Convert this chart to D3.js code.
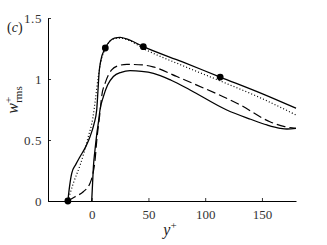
<!DOCTYPE html>
<html>
<head>
<meta charset="utf-8">
<script src="https://cdn.jsdelivr.net/npm/d3@7"></script>
<style>
  body { margin: 0; background: #fff; }
</style>
</head>
<body>
<div id="chart"></div>
<script>
// upper solid line (with markers)
const solidUpper = [
  [-21, 0], [-19.5, 0.12], [-17.6, 0.227], [-14, 0.3], [-10.3, 0.363], [-5, 0.45],
  [-1.5, 0.527], [2, 0.63], [4.4, 0.746], [5.5, 0.9], [6.5, 1.05], [8, 1.15],
  [11.7, 1.25], [16, 1.31], [20, 1.335], [25, 1.342], [32, 1.325], [45.5, 1.265],
  [80, 1.14], [113.2, 1.016], [150, 0.88], [180, 0.76]
];
const dotted = [
  [-21, 0], [-16.2, 0.145], [-10, 0.3], [-3, 0.527], [1, 0.68], [3.5, 0.85],
  [5.5, 1.0], [8, 1.14], [11.7, 1.24], [16, 1.31], [20, 1.33], [25, 1.335],
  [32, 1.32], [45.5, 1.25], [80, 1.11], [113, 0.985], [150, 0.84], [180, 0.705]
];
const dashed = [
  [-21, 0], [-14.7, 0.035], [-7.4, 0.076], [-1.5, 0.145], [1, 0.22], [2.9, 0.33],
  [4.5, 0.5], [7, 0.7], [9, 0.87], [12, 0.97], [17.6, 1.074], [24, 1.11],
  [31, 1.12], [45, 1.115], [54, 1.1], [75, 1.02], [92.6, 0.95], [131, 0.787],
  [157, 0.65], [170, 0.61], [180, 0.596]
];
const solidLower = [
  [0, 0], [0.8, 0.15], [1.5, 0.28], [2.9, 0.418], [4.5, 0.55], [6, 0.65],
  [7.3, 0.746], [10.3, 0.855], [14, 0.95], [19.1, 1.02], [26, 1.055], [33.8, 1.068],
  [44, 1.063], [54.4, 1.047], [70, 0.99], [86.7, 0.91], [119, 0.746], [140, 0.67],
  [154.4, 0.623], [166, 0.596], [172, 0.59], [180, 0.596]
];
const markers = [[-21, 0], [12, 1.254], [45.5, 1.265], [113.2, 1.016]];

const xTicks = [0, 50, 100, 150];
const yTicks = [0, 0.5, 1, 1.5];
const yTickLabels = ["0", "0.5", "1", "1.5"];

const serif = "'Liberation Serif', 'Times New Roman', serif";

const width = 327, height = 245;
const margin = { top: 18, right: 31, bottom: 44, left: 48 };

const svg = d3.select("#chart").append("svg")
  .attr("width", width)
  .attr("height", height)
  .style("font-family", serif);

const x = d3.scaleLinear()
  .domain([-38.5, 180])
  .range([margin.left, width - margin.right]);

const y = d3.scaleLinear()
  .domain([0, 1.5])
  .range([height - margin.bottom, margin.top]);

// axes
const xAxis = d3.axisBottom(x).tickValues(xTicks).tickSize(-3).tickSizeOuter(0).tickPadding(8.5);
const gx = svg.append("g")
  .attr("transform", `translate(0,${height - margin.bottom})`)
  .call(xAxis);

const yAxis = d3.axisLeft(y).tickValues(yTicks).tickSize(-3).tickSizeOuter(0).tickPadding(6)
  .tickFormat((d, i) => yTickLabels[i]);
const gy = svg.append("g")
  .attr("transform", `translate(${margin.left},0)`)
  .call(yAxis);

[gx, gy].forEach(g => {
  g.attr("font-family", serif).attr("font-size", 13);
  g.select(".domain").attr("stroke", "#000").attr("stroke-width", 1);
  g.selectAll(".tick line").attr("stroke", "#000").attr("stroke-width", 0.8);
  g.selectAll("text").attr("fill", "#333");
});
gy.selectAll("text").attr("letter-spacing", 0.6);

// curves
const line = d3.line()
  .x(d => x(d[0]))
  .y(d => y(d[1]))
  .curve(d3.curveMonotoneX);

const plot = svg.append("g");

plot.append("path").datum(solidLower)
  .attr("d", line).attr("fill", "none")
  .attr("stroke", "#000").attr("stroke-width", 1.3);

plot.append("path").datum(dashed)
  .attr("d", line).attr("fill", "none")
  .attr("stroke", "#000").attr("stroke-width", 1.2)
  .attr("stroke-dasharray", "9,4");

plot.append("path").datum(dotted)
  .attr("d", line).attr("fill", "none")
  .attr("stroke", "#000").attr("stroke-width", 1.2)
  .attr("stroke-dasharray", "1,2.2");

plot.append("path").datum(solidUpper)
  .attr("d", line).attr("fill", "none")
  .attr("stroke", "#000").attr("stroke-width", 1.3);

plot.selectAll("circle").data(markers).join("circle")
  .attr("cx", d => x(d[0]))
  .attr("cy", d => y(d[1]))
  .attr("r", 3.4)
  .attr("fill", "#000");

// panel label
const lab = svg.append("text").attr("x", 7).attr("y", 32)
  .attr("font-size", 14).attr("fill", "#222");
lab.append("tspan").text("(");
lab.append("tspan").attr("font-style", "italic").text("c");
lab.append("tspan").text(")");

// y label
const yl = svg.append("text")
  .attr("transform", `translate(18,100) rotate(-90)`)
  .attr("text-anchor", "middle")
  .attr("font-size", 16).attr("fill", "#222");
yl.append("tspan").attr("font-style", "italic").text("w");
yl.append("tspan").attr("font-size", 11).attr("dy", -6).text("+");
yl.append("tspan").attr("font-size", 11).attr("dx", -6).attr("dy", 10).text("rms");

// x label
const xl = svg.append("text")
  .attr("x", 170)
  .attr("y", 235)
  .attr("text-anchor", "middle")
  .attr("font-size", 16).attr("fill", "#222");
xl.append("tspan").attr("font-style", "italic").text("y");
xl.append("tspan").attr("font-size", 11).attr("dy", -6).text("+");
</script>
</body>
</html>
